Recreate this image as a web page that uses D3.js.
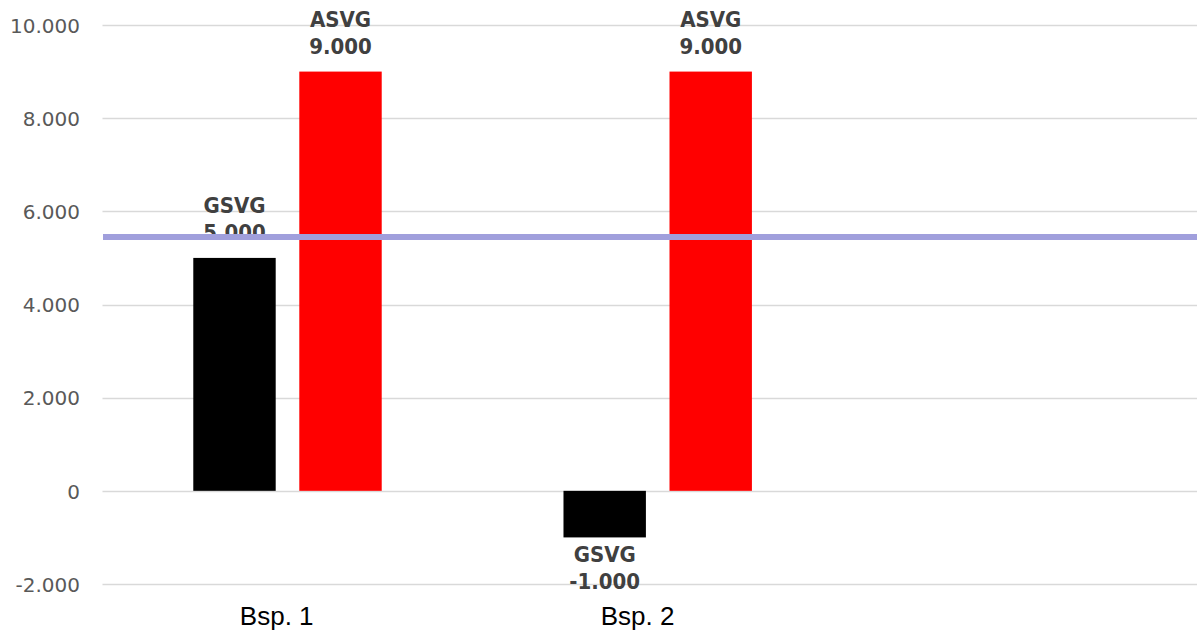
<!DOCTYPE html>
<html>
<head>
<meta charset="utf-8">
<script src="https://cdn.jsdelivr.net/npm/d3@7"></script>
<style>
  html, body { margin: 0; padding: 0; background: #fff; }
  svg { display: block; }
</style>
</head>
<body>
<svg id="chart" width="1197" height="630"></svg>
<script>
// ---- data ----
const categories = ["Bsp. 1", "Bsp. 2", ""];
const seriesNames = ["GSVG", "ASVG"];
const gsvgValues = [5000, -1000, null];
const asvgValues = [9000, 9000, null];
const referenceValue = 5450;
const yTicks = [-2000, 0, 2000, 4000, 6000, 8000, 10000];
const seriesColors = ["#000000", "#ff0000"];

// ---- layout ----
const W = 1197, H = 630;
const svg = d3.select("#chart");

const y = d3.scaleLinear().domain([-2000, 10000]).range([584, 25]);
const x0 = d3.scaleBand().domain(categories).range([102.4, 1213])
  .paddingInner(0.491).paddingOuter(0.2455);
const x1 = d3.scaleBand().domain(seriesNames).range([0, x0.bandwidth()])
  .paddingInner(0.2226).paddingOuter(0);
// axis label positions
const xLabel = d3.scaleBand().domain(categories).range([96.3, 1178.7]);

const locale = d3.formatLocale({ decimal: ",", thousands: ".", grouping: [3], currency: ["", "€"], minus: "-" });
const fmt = locale.format(",");

// gridlines
svg.append("g").selectAll("line").data(yTicks).join("line")
  .attr("x1", 102.5).attr("x2", W)
  .attr("y1", d => Math.round(y(d)) + 0.5).attr("y2", d => Math.round(y(d)) + 0.5)
  .attr("stroke", "#d9d9d9").attr("stroke-width", 1.3);

// y tick labels
const yAxis = d3.axisLeft(y).tickValues(yTicks).tickFormat(fmt).tickSize(0).tickPadding(0);
const ya = svg.append("g").attr("transform", "translate(80,0)").call(yAxis);
ya.select(".domain").remove();
ya.selectAll("text")
  .attr("font-family", "DejaVu Sans")
  .attr("font-size", 20)
  .attr("fill", "#595959")
  .attr("dy", "0.36em");

// x category labels
const xAxis = d3.axisBottom(xLabel).tickSize(0).tickPadding(0);
const xa = svg.append("g").attr("transform", "translate(0,600)").call(xAxis);
xa.select(".domain").remove();
xa.selectAll("text")
  .attr("font-family", "Liberation Sans, Arial, sans-serif")
  .attr("font-size", 26)
  .attr("fill", "#000")
  .attr("dy", "0.96em");

// bars
const rows = [];
categories.forEach((c, i) => {
  [gsvgValues[i], asvgValues[i]].forEach((v, j) => {
    if (v !== null) rows.push({ cat: c, series: seriesNames[j], value: v, color: seriesColors[j] });
  });
});

svg.append("g").selectAll("rect").data(rows).join("rect")
  .attr("x", d => x0(d.cat) + x1(d.series))
  .attr("width", x1.bandwidth())
  .attr("y", d => y(Math.max(0, d.value)))
  .attr("height", d => Math.abs(y(d.value) - y(0)))
  .attr("fill", d => d.color);

// data labels
const lbl = svg.append("g")
  .attr("font-family", "DejaVu Sans Condensed, DejaVu Sans, sans-serif")
  .attr("font-stretch", "condensed")
  .attr("font-weight", "bold")
  .attr("font-size", 22)
  .attr("fill", "#404040")
  .attr("text-anchor", "middle");

rows.forEach(d => {
  const cx = x0(d.cat) + x1(d.series) + x1.bandwidth() / 2;
  const t = lbl.append("text").attr("x", cx);
  if (d.value >= 0) {
    const yb = y(d.value) - 17.5;
    t.append("tspan").attr("x", cx).attr("y", yb - 27.5).text(d.series);
    t.append("tspan").attr("x", cx).attr("y", yb).text(fmt(d.value));
  } else {
    const yb = y(d.value) + 24.5;
    t.append("tspan").attr("x", cx).attr("y", yb).text(d.series);
    t.append("tspan").attr("x", cx).attr("y", yb + 27.5).text(fmt(d.value));
  }
});

// reference line
svg.append("line")
  .attr("x1", 103).attr("x2", W)
  .attr("y1", y(referenceValue)).attr("y2", y(referenceValue))
  .attr("stroke", "#a09fdc").attr("stroke-width", 6);
</script>
</body>
</html>
